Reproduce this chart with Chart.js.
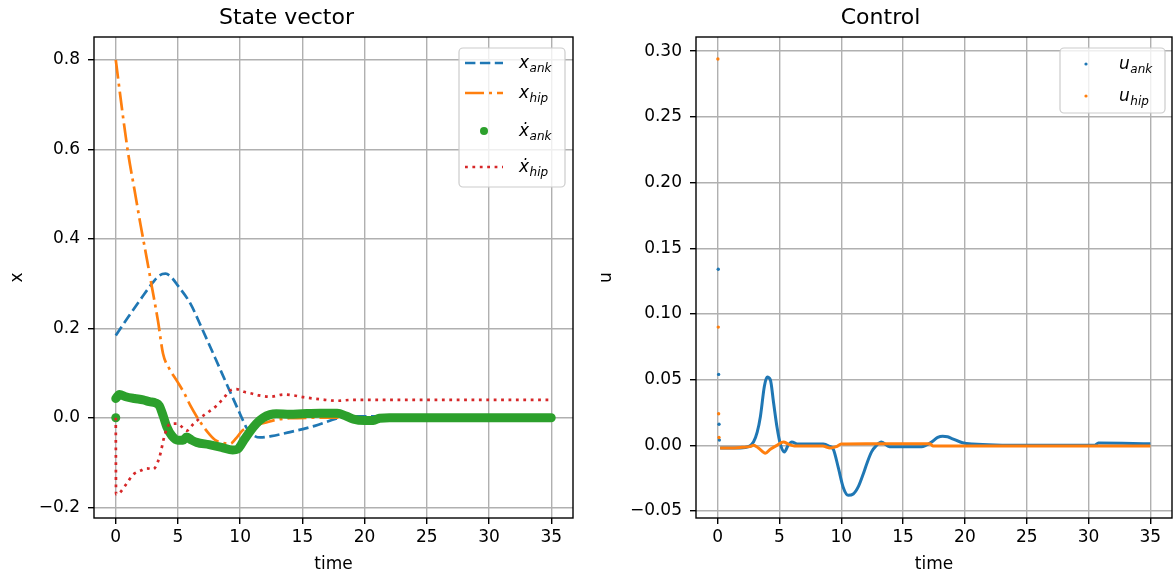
<!DOCTYPE html>
<html lang="en">
<head>
<meta charset="UTF-8">
<title>State vector and control</title>
<style>
  body { margin: 0; background: #fff; }
  .panel { position: absolute; top: 0; width: 588px; height: 576px; }
  #left { left: 0; }
  #right { left: 588px; }
</style>
</head>
<body>
<div class="panel" id="left"><canvas id="stateChart"></canvas></div>
<div class="panel" id="right"><canvas id="controlChart"></canvas></div>

<script src="https://cdn.jsdelivr.net/npm/chart.js"></script>
<script>
// ---- values ----
const timeTicks = [0, 5, 10, 15, 20, 25, 30, 35];
const stateTicks = [-0.2, 0, 0.2, 0.4, 0.6, 0.8];
const controlTicks = [-0.05, 0, 0.05, 0.10, 0.15, 0.20, 0.25, 0.30];

// x_ank
const tAnk = [0, 1, 2, 3, 3.5, 4, 4.5, 5, 6, 7, 8, 9, 10, 10.5, 11, 11.6, 12.5, 14, 16, 18, 19, 21, 23, 35];
const xAnk = [0.184, 0.225, 0.265, 0.303, 0.318, 0.322, 0.313, 0.295, 0.255, 0.195, 0.133, 0.07, 0.008, -0.022, -0.038, -0.044, -0.041, -0.032, -0.018, 0.0, 0.003, 0.003, 0.001, 0];

// x_hip
const tHip = [0, 0.5, 1, 1.5, 2, 2.5, 2.9, 3.4, 3.8, 4.3, 4.9, 5.5, 6, 6.5, 7, 7.5, 8, 8.6, 9.2, 9.7, 10.2, 11, 12, 13, 14, 16, 35];
const xHip = [0.8, 0.69, 0.59, 0.51, 0.43, 0.355, 0.293, 0.215, 0.143, 0.11, 0.083, 0.055, 0.027, 0.003, -0.018, -0.036, -0.05, -0.056, -0.058, -0.045, -0.028, -0.019, -0.011, -0.004, -0.001, 0, 0];

// x_ank dot (first sample sits apart at 0)
const tAnkDot0 = [0];
const xAnkDot0 = [0];
const tAnkDot = [0, 0.3, 0.8, 1.5, 2.2, 2.7, 3.2, 3.5, 3.8, 4.1, 4.5, 5.0, 5.4, 5.7, 6.1, 6.5, 7.5, 8.5, 9.4, 9.8, 10.3, 10.8, 11.3, 11.85, 12.4, 12.9, 14, 15, 16.4, 17.8, 18.5, 19.1, 20, 20.7, 21.2, 22, 35];
const xAnkDot = [0.043, 0.052, 0.047, 0.043, 0.04, 0.036, 0.033, 0.027, 0.005, -0.02, -0.04, -0.05, -0.05, -0.043, -0.05, -0.055, -0.06, -0.066, -0.072, -0.07, -0.05, -0.03, -0.013, 0.0, 0.007, 0.009, 0.008, 0.009, 0.01, 0.01, 0.004, -0.003, -0.006, -0.006, -0.001, 0, 0];

// x_hip dot
const tHipDot = [0, 0.02, 0.3, 0.8, 1.4, 2, 2.5, 3.0, 3.5, 3.95, 4.35, 4.9, 5.3, 5.7, 6.2, 6.8, 7.5, 8.1, 8.7, 9.2, 9.7, 10.3, 10.8, 11.5, 12.4, 13.5, 14.3, 15.1, 16.5, 17.8, 19, 35];
const xHipDot = [0, -0.171, -0.168, -0.15, -0.127, -0.118, -0.113, -0.115, -0.089, -0.037, -0.014, -0.013, -0.02, -0.029, -0.015, 0.0, 0.014, 0.027, 0.045, 0.061, 0.064, 0.058, 0.055, 0.05, 0.047, 0.052, 0.05, 0.046, 0.041, 0.038, 0.04, 0.04];

// u_ank
const tUAnk0 = [0.05, 0.08, 0.11, 0.14];
const uAnk0 = [0.134, 0.054, 0.016, 0.004];
const tUAnk = [0.2, 1, 1.85, 2.5, 2.9, 3.2, 3.46, 3.78, 4.0, 4.26, 4.53, 4.8, 5.07, 5.4, 5.7, 6.0, 6.5, 7.5, 8.55, 9.0, 9.36, 9.76, 10.16, 10.56, 10.97, 11.4, 11.77, 12.1, 12.45, 12.85, 13.25, 13.9, 15, 16.5, 17.3, 17.8, 18.2, 18.6, 19.0, 19.8, 20.6, 25, 30.5, 30.8, 35];
const uAnk = [-0.002, -0.002, -0.002, -0.001, 0.0025, 0.01, 0.022, 0.045, 0.052, 0.05, 0.032, 0.014, 0.001, -0.005, 0.0, 0.0025, 0.001, 0.001, 0.001, -0.0005, -0.003, -0.017, -0.032, -0.038, -0.037, -0.031, -0.022, -0.013, -0.005, 0.0, 0.0025, -0.001, -0.001, -0.001, 0.0025, 0.006, 0.007, 0.0065, 0.005, 0.002, 0.001, 0.0, 0.0, 0.0017, 0.0013];

// u_hip
const tUHip0 = [0.02, 0.05, 0.08, 0.11];
const uHip0 = [0.294, 0.09, 0.024, 0.006];
const tUHip = [0.2, 1, 2, 2.6, 2.9, 3.3, 3.86, 4.26, 4.8, 5.33, 5.7, 6.2, 7, 8.5, 9.1, 9.6, 10.0, 12, 15, 17.2, 17.4, 25, 35];
const uHip = [-0.002, -0.002, -0.0015, -0.001, 0.0, -0.002, -0.006, -0.003, 0.0, 0.0025, 0.001, -0.0005, -0.0005, -0.0005, -0.002, -0.001, 0.001, 0.0013, 0.0013, 0.0013, -0.0005, -0.0005, -0.0005];

const C0 = '#1f77b4', C1 = '#ff7f0e', C2 = '#2ca02c', C3 = '#d62728';
const pts = (t, v) => t.map((x, i) => ({ x, y: v[i] }));
const minus = s => s.replace('-', '\u2212');

Chart.defaults.font.family = '"DejaVu Sans"';
Chart.defaults.color = '#000';

// matplotlib-like box around the axes
const framePlugin = {
  id: 'frame',
  afterDatasetsDraw(chart) {
    const { ctx, chartArea: a } = chart;
    ctx.save();
    ctx.strokeStyle = '#000';
    ctx.lineWidth = 1.4;
    ctx.strokeRect(a.left, a.top, a.right - a.left, a.bottom - a.top);
    ctx.restore();
  }
};

// legend with subscripts, drawn inside the top right corner
const mathLegend = {
  id: 'mathLegend',
  afterDraw(chart, args, o) {
    if (!o.items) return;
    const { ctx, chartArea: a } = chart;
    const x0 = a.right - o.inset - o.width, y0 = a.top + o.top;
    ctx.save();
    ctx.beginPath();
    ctx.roundRect(x0, y0, o.width, o.height, 4);
    ctx.fillStyle = 'rgba(255,255,255,0.8)';
    ctx.fill();
    ctx.strokeStyle = '#cccccc';
    ctx.lineWidth = 1.2;
    ctx.stroke();
    o.items.forEach((it, i) => {
      const ds = chart.data.datasets[it.ds];
      const cy = y0 + o.rows[i];
      if (it.marker) {
        ctx.beginPath();
        ctx.arc(x0 + o.handleX + o.handleW / 2, cy, it.marker, 0, Math.PI * 2);
        ctx.fillStyle = ds.borderColor;
        ctx.fill();
      } else {
        ctx.beginPath();
        ctx.setLineDash(ds.borderDash || []);
        ctx.lineWidth = ds.borderWidth;
        ctx.strokeStyle = ds.borderColor;
        ctx.moveTo(x0 + o.handleX, cy);
        ctx.lineTo(x0 + o.handleX + o.handleW, cy);
        ctx.stroke();
        ctx.setLineDash([]);
      }
      const tx = x0 + o.textX, base = cy + 5;
      ctx.fillStyle = '#000';
      ctx.textBaseline = 'alphabetic';
      ctx.textAlign = 'left';
      ctx.font = 'italic 17px "DejaVu Sans"';
      ctx.fillText(it.sym, tx, base);
      const w = ctx.measureText(it.sym.charAt(0)).width;
      ctx.font = 'italic 12px "DejaVu Sans"';
      ctx.fillText(it.sub, tx + w + 0.5, base + 4);
    });
    ctx.restore();
  }
};

function axes(yTicks, yMin, yMax, yTitle, yWidth, digits, yTitlePad) {
  return {
    x: {
      type: 'linear', min: -1.75, max: 36.75,
      afterBuildTicks: s => { s.ticks = timeTicks.map(v => ({ value: v })); },
      afterFit: s => { s.height = 58; },
      grid: { color: '#b0b0b0', lineWidth: 1.4, tickColor: '#000', tickWidth: 1.4, tickLength: 6 },
      border: { display: false },
      ticks: { font: { size: 17 }, padding: 3, maxRotation: 0 },
      title: { display: true, text: 'time', font: { size: 17 }, padding: { top: 0, bottom: 1 } }
    },
    y: {
      type: 'linear', min: yMin, max: yMax,
      afterBuildTicks: s => { s.ticks = yTicks.map(v => ({ value: v })); },
      afterFit: s => { s.width = yWidth; },
      grid: { color: '#b0b0b0', lineWidth: 1.4, tickColor: '#000', tickWidth: 1.4, tickLength: 6 },
      border: { display: false },
      ticks: { font: { size: 17 }, padding: 8, callback: v => minus(v.toFixed(digits)) },
      title: { display: true, text: yTitle, font: { size: 17 }, padding: { top: yTitlePad, bottom: 0 } }
    }
  };
}

const common = {
  responsive: true,
  maintainAspectRatio: false,
  animation: false,
  events: []
};

const lineDs = (label, t, v, color, extra) => Object.assign({
  label, data: pts(t, v), showLine: true, pointRadius: 0,
  borderColor: color, backgroundColor: color, borderWidth: 2.7,
  cubicInterpolationMode: 'monotone'
}, extra);

new Chart(document.getElementById('stateChart'), {
  type: 'scatter',
  data: {
    datasets: [
      lineDs('x_ank', tAnk, xAnk, C0, { borderDash: [10.4, 4.5], order: 4 }),
      lineDs('x_hip', tHip, xHip, C1, { borderDash: [19, 5, 3, 5], order: 3 }),
      lineDs('xdot_ank', tAnkDot, xAnkDot, C2, { borderWidth: 9, borderCapStyle: 'round', borderJoinStyle: 'round', order: 2 }),
      { label: 'xdot_ank start', data: pts(tAnkDot0, xAnkDot0), pointRadius: 4.5, pointBorderWidth: 0,
        backgroundColor: C2, borderColor: C2, order: 2 },
      lineDs('xdot_hip', tHipDot, xHipDot, C3, { borderDash: [2.8, 4.6], order: 1 })
    ]
  },
  options: Object.assign({}, common, {
    layout: { padding: { top: 0, right: 15, bottom: 0, left: 0 } },
    scales: axes(stateTicks, -0.224, 0.851, 'x', 94, 1, 7),
    plugins: {
      legend: { display: false },
      tooltip: { enabled: false },
      title: { display: true, text: 'State vector', font: { size: 22, weight: 'normal' }, padding: { top: 5, bottom: 5.6 } },
      mathLegend: {
        inset: 8, top: 11, width: 106, height: 139,
        handleX: 6, handleW: 38, textX: 60,
        rows: [15, 45, 83, 119],
        items: [
          { ds: 0, sym: 'x', sub: 'ank' },
          { ds: 1, sym: 'x', sub: 'hip' },
          { ds: 2, sym: 'x\u0307', sub: 'ank', marker: 4 },
          { ds: 4, sym: 'x\u0307', sub: 'hip' }
        ]
      }
    }
  }),
  plugins: [framePlugin, mathLegend]
});

new Chart(document.getElementById('controlChart'), {
  type: 'scatter',
  data: {
    datasets: [
      lineDs('u_ank', tUAnk, uAnk, C0, { borderWidth: 3, order: 2 }),
      { label: 'u_ank start', data: pts(tUAnk0, uAnk0), pointRadius: 1.7, pointBorderWidth: 0,
        backgroundColor: C0, borderColor: C0, order: 2 },
      lineDs('u_hip', tUHip, uHip, C1, { borderWidth: 3, order: 1 }),
      { label: 'u_hip start', data: pts(tUHip0, uHip0), pointRadius: 1.7, pointBorderWidth: 0,
        backgroundColor: C1, borderColor: C1, order: 1 }
    ]
  },
  options: Object.assign({}, common, {
    layout: { padding: { top: 0, right: 3, bottom: 0, left: 0 } },
    scales: axes(controlTicks, -0.0553, 0.3108, 'u', 108, 2, 8),
    plugins: {
      legend: { display: false },
      tooltip: { enabled: false },
      title: { display: true, text: 'Control', font: { size: 22, weight: 'normal' }, padding: { top: 5, bottom: 5.6 } },
      mathLegend: {
        inset: 7, top: 11, width: 105, height: 65,
        handleX: 7, handleW: 38, textX: 59,
        rows: [16, 48],
        items: [
          { ds: 0, sym: 'u', sub: 'ank', marker: 1.6 },
          { ds: 2, sym: 'u', sub: 'hip', marker: 1.6 }
        ]
      }
    }
  }),
  plugins: [framePlugin, mathLegend]
});
</script>
</body>
</html>
